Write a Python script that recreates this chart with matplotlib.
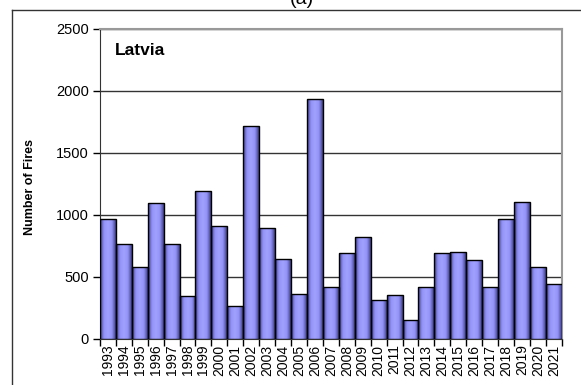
import numpy as np
import matplotlib
matplotlib.use('Agg')
import matplotlib.pyplot as plt
from matplotlib.colors import LinearSegmentedColormap
from matplotlib.lines import Line2D

plt.rcParams['font.family'] = ['Liberation Sans', 'DejaVu Sans']

years = [str(y) for y in range(1993, 2022)]
fires = [965, 763, 578, 1094, 763, 349, 1191, 909, 266, 1718,
         898, 645, 363, 1933, 419, 696, 820, 315, 357, 153,
         419, 696, 704, 640, 419, 970, 1105, 578, 444]

fig = plt.figure(figsize=(5.81, 3.85), dpi=100)
ax = fig.add_axes([0.172, 0.1195, 0.795, 0.8055])

x = np.arange(len(years))
bars = ax.bar(x, fires, width=1.0, color='#9999ff', edgecolor='black',
              linewidth=1.0, zorder=3)

# excel-like shading across each bar
cmap = LinearSegmentedColormap.from_list('shade', ['#3c3c88', '#9494f8', '#a0a0ff', '#9494f8', '#3c3c88'])
grad = np.linspace(0, 1, 64).reshape(1, -1)
for b in bars:
    x0, w, h = b.get_x(), b.get_width(), b.get_height()
    im = ax.imshow(grad, cmap=cmap, aspect='auto', extent=[x0, x0 + w, 0, h],
                   zorder=3, interpolation='bicubic')
    im.set_clip_path(b)
    b.set_facecolor('none')
    b.set_zorder(4)

ax.set_xlim(-0.5, len(years) - 0.5)
ax.set_ylim(0, 2500)
ax.set_yticks([0, 500, 1000, 1500, 2000, 2500])
ax.yaxis.grid(True, color='#333333', linewidth=1.0, zorder=1)
ax.tick_params(axis='y', direction='out', length=5, width=1, labelsize=10.5, pad=3)

ax.set_xticks(x)
ax.set_xticklabels(years, rotation=90, fontsize=10)
ax.set_xticks(np.arange(-0.5, len(years), 1.0), minor=True)
ax.tick_params(axis='x', which='major', length=0, pad=4)
ax.tick_params(axis='x', which='minor', direction='out', length=5, width=1)

for s in ['top', 'right']:
    ax.spines[s].set_color('#999999')
    ax.spines[s].set_linewidth(1.5)
ax.spines['left'].set_color('#333333')
ax.spines['bottom'].set_color('#333333')

ax.set_ylabel('Number of Fires', fontsize=9, fontweight='bold')
ax.yaxis.set_label_coords(-0.138, 0.49)
ax.text(0.033, 0.93, 'Latvia', transform=ax.transAxes, fontsize=12.5,
        fontweight='bold', va='center', ha='left')

# outer frame lines
fig.add_artist(Line2D([12 / 581, 1], [1 - 10 / 385, 1 - 10 / 385], color='#333333', linewidth=1))
fig.add_artist(Line2D([12 / 581, 12 / 581], [0, 1 - 10 / 385], color='#333333', linewidth=1))
fig.text(302 / 581, 1 - 4 / 385, '(a)', fontsize=14, ha='center', va='baseline')

fig.savefig('out.png', dpi=100)
